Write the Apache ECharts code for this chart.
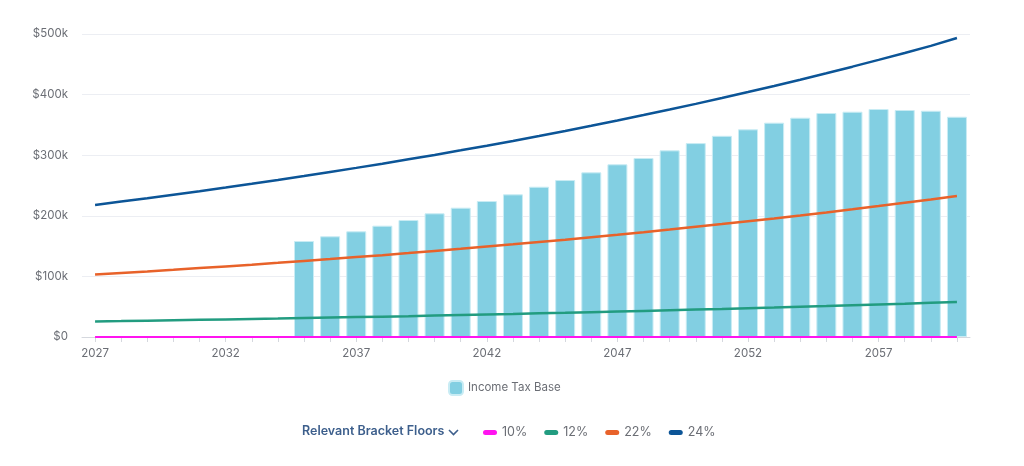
<!DOCTYPE html>
<html>
<head>
<meta charset="utf-8">
<script src="https://cdn.jsdelivr.net/npm/echarts@6/dist/echarts.min.js"></script>
<style>
html,body{margin:0;padding:0;background:#fff;}
#chart{width:1024px;height:466px;}
</style>
</head>
<body>
<div id="chart"></div>
<script>
const years = [2027,2028,2029,2030,2031,2032,2033,2034,2035,2036,2037,2038,2039,2040,2041,2042,2043,2044,2045,2046,2047,2048,2049,2050,2051,2052,2053,2054,2055,2056,2057,2058,2059,2060];
// Income Tax Base (thousands), null before 2035
const taxBase = [null,null,null,null,null,null,null,null,158.4,166.2,174.4,183.7,193.1,204.1,213.4,224.4,235.4,248,259,271.7,285,295.4,308,320,332,342.7,353.7,361.9,369.6,371.8,376.2,374.6,373.4,363.5];
const floor10 = [0,0,0,0,0,0,0,0,0,0,0,0,0,0,0,0,0,0,0,0,0,0,0,0,0,0,0,0,0,0,0,0,0,0];
const floor12 = [25.6,26.2,26.9,27.6,28.3,29.0,29.7,30.4,31.2,32.0,32.8,33.6,34.4,35.3,36.2,37.1,38.0,39.0,39.9,40.9,41.9,43.0,44.1,45.2,46.3,47.5,48.6,49.9,51.1,52.4,53.7,55.0,56.4,57.8];
const floor22 = [103.0,105.6,108.2,110.9,113.7,116.5,119.4,122.4,125.5,128.6,131.9,135.1,138.5,142.0,145.5,149.2,152.9,156.7,160.6,164.7,168.8,173.0,177.3,181.8,186.3,191.0,195.7,200.6,205.6,210.8,216.1,221.5,227.0,232.7];
const floor24 = [218.0,223.5,229.0,234.8,240.6,246.6,252.8,259.1,265.6,272.3,279.1,286.0,293.2,300.5,308.0,315.7,323.6,331.7,340.0,348.5,357.2,366.2,375.3,384.7,394.3,404.2,414.3,424.6,435.2,446.1,457.3,468.7,480.4,493.5];
const yTicks = [0,100,200,300,400,500];

const toK = a => a.map(v => v == null ? null : v * 1000);
const FONT = 'Inter, "Noto Sans", sans-serif';
const PILL = 'path://M2.5,0 H11.5 A2.5,2.5 0 0 1 11.5,5 H2.5 A2.5,2.5 0 0 1 2.5,0 Z';

const chart = echarts.init(document.getElementById('chart'), null, {renderer:'canvas'});
chart.setOption({
  animation:false,
  textStyle:{fontFamily:FONT},
  grid:{left:82,right:54,top:34,bottom:129},
  xAxis:{
    type:'category',
    data:years.map(String),
    boundaryGap:true,
    axisLine:{lineStyle:{color:'#d5d8de',width:1}},
    axisTick:{show:true,alignWithLabel:true,interval:0,length:5,lineStyle:{color:'#d5d8de'}},
    axisLabel:{interval:4,color:'#6b6e75',fontSize:11.5,margin:11,fontFamily:FONT}
  },
  yAxis:{
    type:'value',min:0,max:yTicks[yTicks.length-1]*1000,interval:100000,
    axisLine:{show:false},axisTick:{show:false},
    splitLine:{lineStyle:{color:'#eceef3',width:1}},
    axisLabel:{color:'#6b6e75',fontSize:11.5,margin:14,fontFamily:FONT,
      formatter:v => v===0 ? '$0' : '$' + (v/1000) + 'k'}
  },
  legend:[
    {data:['Income Tax Base'],top:375,left:443,itemWidth:14,itemHeight:14,icon:'roundRect',
     itemGap:10,textStyle:{color:'#6b6e75',fontSize:11.5,fontFamily:FONT}},
    {data:['10%','12%','22%','24%'],top:421,left:478,itemWidth:14,itemHeight:5,icon:PILL,
     itemGap:17,textStyle:{color:'#6b6e75',fontSize:12.5,fontFamily:FONT}}
  ],
  graphic:[
    {type:'text',left:302,top:425,style:{text:'Relevant Bracket Floors',fill:'#3d5f8c',font:'600 12.5px '+FONT}},
    {type:'polyline',shape:{points:[[449,430],[453.5,434.5],[458,430]]},style:{stroke:'#3d5f8c',lineWidth:1.6,fill:null}}
  ],
  series:[
    {name:'Income Tax Base',type:'bar',data:toK(taxBase),barWidth:20,
     itemStyle:{color:'#82cfe2',borderColor:'#c9ecf4',borderWidth:1},z:1},
    {name:'10%',type:'line',data:toK(floor10),showSymbol:false,symbol:'none',
     lineStyle:{color:'#ff14f0',width:2},itemStyle:{color:'#ff14f0'},z:5},
    {name:'12%',type:'line',data:toK(floor12),showSymbol:false,symbol:'none',
     lineStyle:{color:'#229c80',width:2.5},itemStyle:{color:'#229c80'},z:5},
    {name:'22%',type:'line',data:toK(floor22),showSymbol:false,symbol:'none',
     lineStyle:{color:'#e8622a',width:2.5},itemStyle:{color:'#e8622a'},z:5},
    {name:'24%',type:'line',data:toK(floor24),showSymbol:false,symbol:'none',
     lineStyle:{color:'#0c5597',width:2.5},itemStyle:{color:'#0c5597'},z:5}
  ]
});
</script>
</body>
</html>
